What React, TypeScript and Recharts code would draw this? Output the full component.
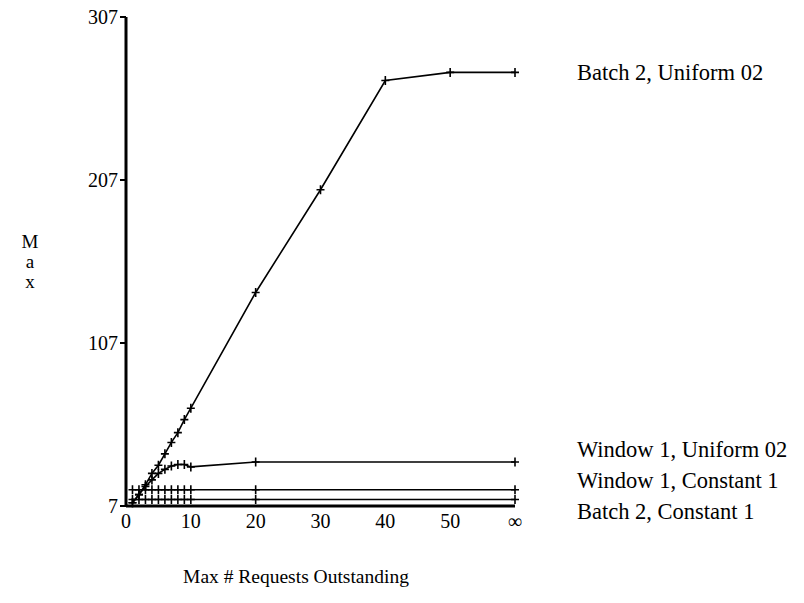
import React from "react";
import { LineChart, Line, XAxis, YAxis, LabelList, Label } from "recharts";

const xValues = [1, 2, 3, 4, 5, 6, 7, 8, 9, 10, 20, 30, 40, 50, 60];
const batch2Uniform = [9, 14, 20, 27, 32, 39, 46, 52, 60, 67, 138, 201, 268, 273, 273];
const window1Uniform = [9, 14, 19, 23, 27, 29.5, 31.5, 32.5, 32.5, 31, 34, null, null, null, 34];
const window1Constant = [17, 17, 17, 17, 17, 17, 17, 17, 17, 17, 17, null, null, null, 17];
const batch2Constant = [11, 11, 11, 11, 11, 11, 11, 11, 11, 11, 11, null, null, null, 11];

const xTicks = [0, 10, 20, 30, 40, 50, 60];
const xTickLabels = ["0", "10", "20", "30", "40", "50", "\u221e"];
const yTicks = [7, 107, 207, 307];

const seriesNames = [
  "Batch 2, Uniform 02",
  "Window 1, Uniform 02",
  "Window 1, Constant 1",
  "Batch 2, Constant 1",
];
const seriesKeys = ["b2u", "w1u", "w1c", "b2c"];
const labelDy = [0, -12, -9, 12];

const data = xValues.map((x, i) => ({
  x,
  b2u: batch2Uniform[i],
  w1u: window1Uniform[i],
  w1c: window1Constant[i],
  b2c: batch2Constant[i],
}));

const FONT = "'Liberation Serif', 'Times New Roman', serif";

const Plus = (props: any) => {
  const { cx, cy } = props;
  if (cx == null || cy == null || props.value == null) return <g />;
  return (
    <path
      d={`M${cx - 4},${cy}H${cx + 4}M${cx},${cy - 4.5}V${cy + 4.5}`}
      stroke="#000"
      strokeWidth={1.6}
      fill="none"
    />
  );
};

const makeEndLabel = (idx: number) => (props: any) => {
  const { x, y, index } = props;
  if (index !== xValues.length - 1) return null;
  return (
    <text
      x={x + 62}
      y={y + labelDy[idx]}
      dominantBaseline="central"
      fontFamily={FONT}
      fontSize={22.5}
      fill="#000"
    >
      {seriesNames[idx]}
    </text>
  );
};

const MaxLabel = (props: any) => {
  const vb = props.viewBox;
  const cy = vb.y + vb.height / 2;
  const letters = ["M", "a", "x"];
  return (
    <g>
      {letters.map((l, i) => (
        <text
          key={i}
          x={30}
          y={cy - 20 + i * 20}
          textAnchor="middle"
          dominantBaseline="central"
          fontFamily={FONT}
          fontSize={19}
          fill="#000"
        >
          {l}
        </text>
      ))}
    </g>
  );
};

const XTitle = (props: any) => {
  const vb = props.viewBox;
  return (
    <text
      x={vb.x + 170}
      y={vb.y + 70}
      textAnchor="middle"
      dominantBaseline="central"
      fontFamily={FONT}
      fontSize={19.5}
      fill="#000"
    >
      Max # Requests Outstanding
    </text>
  );
};

export default function App() {
  return (
    <div style={{ position: "absolute", left: 0, top: 0, background: "#fff" }}>
      <LineChart
        width={804}
        height={603}
        data={data}
        margin={{ top: 17, right: 289, bottom: 67, left: 66 }}
      >
        <XAxis
          dataKey="x"
          type="number"
          domain={[0, 60]}
          ticks={xTicks}
          tickFormatter={(v: number) => xTickLabels[xTicks.indexOf(v)]}
          tickLine={false}
          axisLine={{ stroke: "#000", strokeWidth: 3 }}
          tick={{ fill: "#000", fontFamily: FONT, fontSize: 20 }}
          height={30}
          interval={0}
        >
          <Label content={<XTitle />} />
        </XAxis>
        <YAxis
          type="number"
          domain={[7, 307]}
          ticks={yTicks}
          interval={0}
          width={60}
          tickSize={6}
          tickLine={{ stroke: "#000", strokeWidth: 2 }}
          axisLine={{ stroke: "#000", strokeWidth: 3 }}
          tick={{ fill: "#000", fontFamily: FONT, fontSize: 20 }}
        >
          <Label content={<MaxLabel />} />
        </YAxis>
        {seriesKeys.map((k, i) => (
          <Line
            key={k}
            dataKey={k}
            stroke="#000"
            strokeWidth={1.6}
            dot={<Plus />}
            activeDot={false}
            connectNulls
            isAnimationActive={false}
          >
            <LabelList dataKey={k} content={makeEndLabel(i)} />
          </Line>
        ))}
      </LineChart>
    </div>
  );
}
